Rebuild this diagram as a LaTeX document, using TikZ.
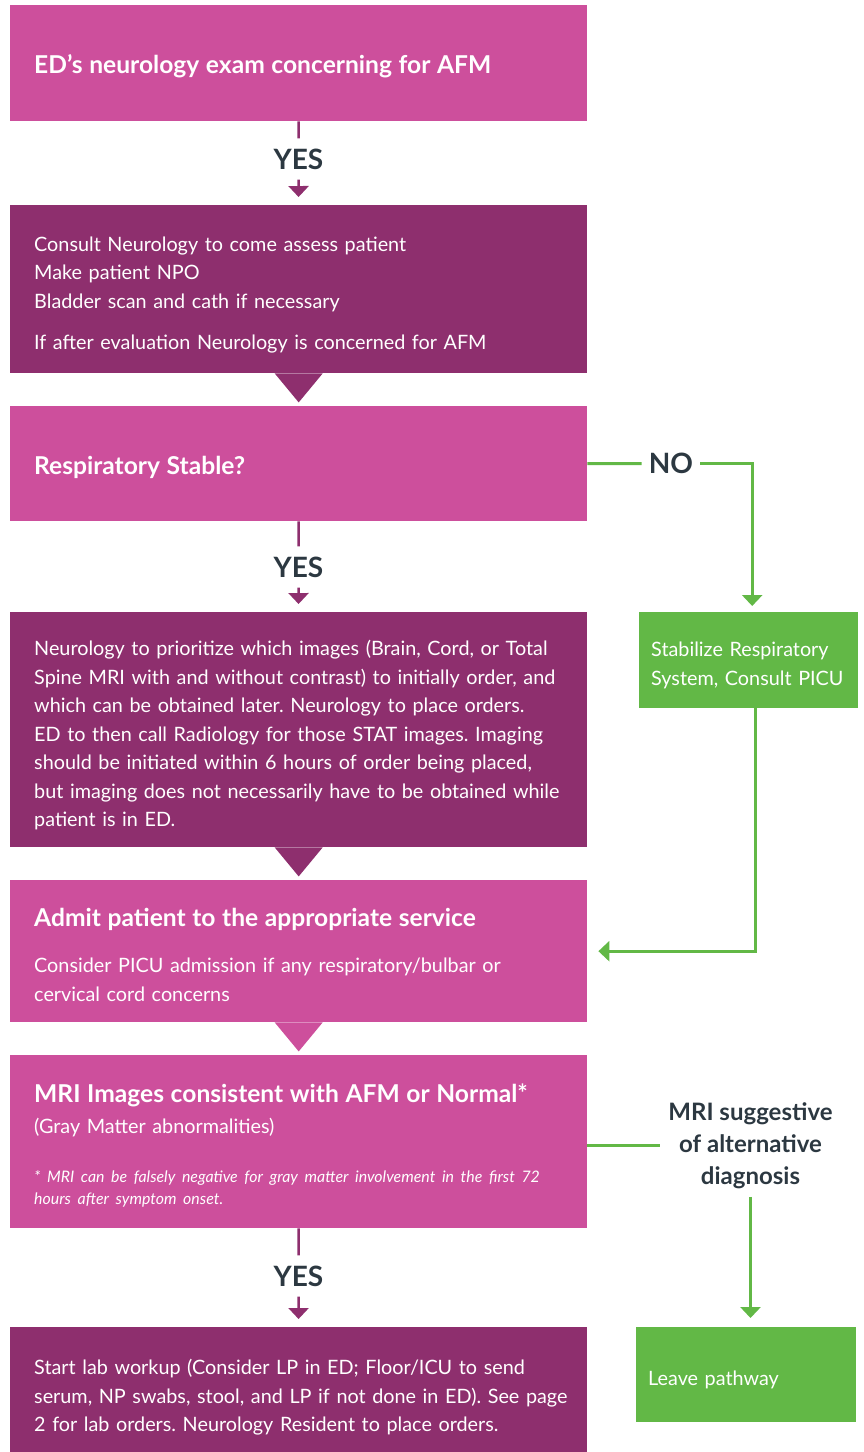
\documentclass[tikz,border=0pt]{standalone}
\usepackage{fontspec}
\setmainfont{Lato}
\usetikzlibrary{arrows.meta,positioning}
\definecolor{afmpink}{HTML}{CD4F9C}
\definecolor{afmplum}{HTML}{8E2F6E}
\definecolor{afmgreen}{HTML}{62B846}
\definecolor{afmslate}{HTML}{2C3841}
\newcommand{\titlefont}{\fontsize{24.6}{28.5}\bfseries\selectfont}
\newcommand{\notefont}{\fontsize{15.9}{22}\itshape\selectfont}
\frenchspacing

\tikzset{
  box/.style={rectangle, anchor=north west, minimum width=577pt,
    text width=577pt, inner xsep=0pt, inner ysep=0pt, align=left,
    text=white, font=\fontsize{19.8}{28.5}\selectfont,
    execute at begin node={\leftskip=24pt\rule{0pt}{26pt}}},
  pinkbox/.style={box, fill=afmpink},
  plumbox/.style={box, fill=afmplum},
  greenbox/.style={rectangle, anchor=north west, fill=afmgreen, text=white,
    align=left, inner xsep=12pt, inner ysep=0pt,
    font=\fontsize{19.8}{28.5}\selectfont,
    execute at begin node={\rule{0pt}{25pt}}},
  answer/.style={text=afmslate, font=\fontsize{28}{28}\bfseries\selectfont,
    minimum height=41pt, inner xsep=7pt, inner ysep=0pt},
  yesline/.style={afmplum, line width=2.5pt},
  yesarrow/.style={yesline, -{Triangle[width=20pt,length=11pt]}, shorten >=8pt},
  noline/.style={afmgreen, line width=3pt},
  noarrow/.style={noline, -{Triangle[width=20pt,length=11pt]}},
}

\begin{document}
\begin{tikzpicture}[x=1pt,y=-1pt]
  \useasboundingbox (0,0) rectangle (864,1452);

  % main column
  \node[pinkbox, minimum height=116pt] (exam) at (10,5)
    {\titlefont ED’s neurology exam concerning for AFM};
  \node[answer] (yes1) at (298.5,159) {YES};
  \node[plumbox, minimum height=168pt] (consult) at (10,205)
    {Consult Neurology to come assess patient\\
     Make patient NPO\\
     Bladder scan and cath if necessary\\[12.5pt]
     If after evaluation Neurology is concerned for AFM};
  \node[pinkbox, minimum height=115pt] (resp) at (10,406)
    {\titlefont Respiratory Stable?};
  \node[answer] (yes2) at (298.5,567) {YES};
  \node[plumbox, minimum height=235pt] (imaging) at (10,612)
    {Neurology to prioritize which images (Brain, Cord, or Total\\
     Spine MRI with and without contrast) to initially order, and\\
     which can be obtained later. Neurology to place orders.\\
     ED to then call Radiology for those STAT images. Imaging\\
     should be initiated within 6 hours of order being placed,\\
     but imaging does not necessarily have to be obtained while\\
     patient is in ED.};
  \node[pinkbox, minimum height=142pt] (admit) at (10,880)
    {{\titlefont Admit patient to the appropriate service}\\[17.5pt]
     Consider PICU admission if any respiratory/bulbar or\\
     cervical cord concerns};
  \node[pinkbox, minimum height=173pt] (mri) at (10,1055)
    {{\titlefont MRI Images consistent with AFM or Normal*}\\[2.5pt]
     (Gray Matter abnormalities)\\[20.5pt]
     {\notefont * MRI can be falsely negative for gray matter involvement in the first 72}\\[-6.5pt]
     {\notefont hours after symptom onset.}};
  \node[answer] (yes3) at (298.5,1276) {YES};
  \node[plumbox, minimum height=130pt] (labs) at (10,1327)
    {Start lab workup (Consider LP in ED; Floor/ICU to send\\
     serum, NP swabs, stool, and LP if not done in ED). See page\\
     2 for lab orders. Neurology Resident to place orders.};

  % side branch
  \node[answer] (no) at (671,463.5) {NO};
  \node[greenbox, minimum width=219pt, minimum height=96pt, text width=195pt] (stab) at (639,612)
    {Stabilize Respiratory\\System, Consult PICU};
  \node[answer, align=center, font=\fontsize{24}{32}\bfseries\selectfont, inner xsep=8pt, inner ysep=8pt] (alt) at (750.5,1145.5)
    {MRI suggestive\\of alternative\\diagnosis};
  \node[greenbox, minimum width=220pt, minimum height=95pt, text width=196pt] (leave) at (636,1327)
    {Leave pathway};

  % pointers under the boxes
  \foreach \b/\c in {consult/afmplum, imaging/afmplum, admit/afmpink}
    \fill[\c] ([xshift=-24pt]\b.south) -- ([xshift=24pt]\b.south)
      -- ([yshift=-29pt]\b.south) -- cycle;

  % yes connectors
  \draw[yesline] (exam) -- (yes1);
  \draw[yesarrow] (yes1) -- (consult);
  \draw[yesline] (resp) -- (yes2);
  \draw[yesarrow] (yes2) -- (imaging);
  \draw[yesline] (mri) -- (yes3);
  \draw[yesarrow] (yes3) -- (labs);

  % green connectors
  \draw[noline] (resp) -- (no);
  \draw[noarrow, shorten >=6pt] (no) -| ([xshift=3.5pt]stab.north);
  \draw[noarrow, shorten >=11pt] ([xshift=6.5pt]stab.south) |- (admit);
  \draw[noline] (mri.east |- alt.west) -- (alt.west);
  \draw[noarrow, shorten >=9pt] (alt) -- (alt |- leave.north);
\end{tikzpicture}
\end{document}
